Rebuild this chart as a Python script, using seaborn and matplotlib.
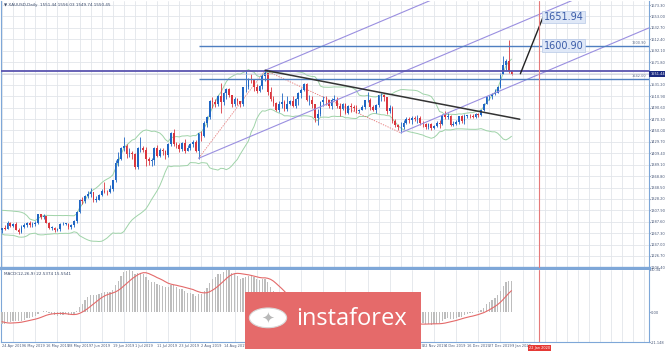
import numpy as np
import pandas as pd
import seaborn as sns
import matplotlib.pyplot as plt
from matplotlib.patches import Rectangle, Circle
from matplotlib.transforms import blended_transform_factory

# Daily XAUUSD candles, 24 Apr 2019 .. 9 Jan 2020
opens = [1272, 1276, 1275, 1286, 1280, 1284, 1273, 1270, 1279, 1282, 1285, 1281, 1284, 1286, 1301, 1296,
         1297, 1286, 1277, 1277, 1273, 1274, 1283, 1284, 1284, 1279, 1281, 1288, 1305, 1327, 1324, 1333,
         1337, 1340, 1327, 1327, 1335, 1342, 1341, 1340, 1346, 1361, 1392, 1400, 1418, 1423, 1408, 1410,
         1409, 1385, 1418, 1418, 1415, 1400, 1395, 1397, 1419, 1404, 1415, 1413, 1406, 1426, 1446, 1426,
         1424, 1417, 1427, 1414, 1419, 1426, 1430, 1413, 1445, 1440, 1464, 1474, 1502, 1500, 1497, 1512,
         1500, 1517, 1524, 1513, 1497, 1506, 1502, 1497, 1527, 1527, 1542, 1539, 1527, 1520, 1529, 1547,
         1553, 1519, 1506, 1499, 1486, 1497, 1501, 1488, 1498, 1502, 1494, 1506, 1517, 1522, 1532, 1504,
         1505, 1497, 1472, 1479, 1500, 1505, 1504, 1493, 1505, 1505, 1494, 1489, 1497, 1482, 1494, 1492,
         1490, 1484, 1487, 1492, 1504, 1505, 1492, 1487, 1496, 1513, 1514, 1510, 1484, 1490, 1467, 1459,
         1456, 1456, 1463, 1471, 1468, 1472, 1471, 1473, 1464, 1462, 1456, 1462, 1455, 1458, 1464, 1462,
         1477, 1474, 1475, 1459, 1462, 1465, 1475, 1467, 1476, 1476, 1475, 1474, 1479, 1478, 1486, 1498,
         1511, 1511, 1515, 1517, 1528, 1551, 1566, 1574, 1556]
highs = [1277, 1281, 1289, 1287, 1286, 1287, 1276, 1282, 1285, 1287, 1288, 1287, 1288, 1302, 1302, 1301,
         1298, 1287, 1280, 1279, 1276, 1286, 1287, 1286, 1286, 1284, 1291, 1306, 1328, 1331, 1336, 1342,
         1348, 1341, 1333, 1337, 1345, 1358, 1344, 1353, 1362, 1397, 1411, 1420, 1439, 1426, 1419, 1414,
         1410, 1420, 1438, 1422, 1420, 1403, 1401, 1421, 1425, 1418, 1418, 1415, 1428, 1448, 1453, 1429,
         1428, 1429, 1434, 1424, 1428, 1433, 1433, 1446, 1449, 1466, 1475, 1505, 1509, 1506, 1513, 1535,
         1519, 1525, 1525, 1514, 1509, 1507, 1503, 1528, 1555, 1543, 1551, 1542, 1533, 1531, 1550, 1557,
         1553, 1528, 1511, 1500, 1503, 1516, 1505, 1512, 1505, 1512, 1508, 1518, 1525, 1535, 1535, 1513,
         1511, 1498, 1489, 1503, 1512, 1512, 1505, 1507, 1513, 1510, 1499, 1499, 1499, 1496, 1499, 1495,
         1495, 1489, 1496, 1505, 1518, 1508, 1495, 1498, 1514, 1517, 1515, 1510, 1495, 1494, 1470, 1462,
         1465, 1468, 1474, 1474, 1476, 1476, 1478, 1475, 1466, 1464, 1463, 1463, 1460, 1467, 1468, 1479,
         1484, 1481, 1478, 1466, 1468, 1476, 1478, 1480, 1478, 1480, 1479, 1481, 1481, 1487, 1499, 1512,
         1514, 1516, 1524, 1530, 1553, 1582, 1578, 1611, 1558]
lows = [1268, 1272, 1274, 1278, 1278, 1272, 1266, 1267, 1276, 1279, 1279, 1279, 1280, 1284, 1293, 1293,
        1285, 1275, 1273, 1269, 1271, 1271, 1281, 1282, 1275, 1275, 1279, 1286, 1304, 1319, 1321, 1330,
        1332, 1322, 1323, 1326, 1333, 1338, 1336, 1339, 1342, 1358, 1387, 1398, 1414, 1401, 1402, 1400,
        1382, 1381, 1411, 1412, 1386, 1388, 1387, 1389, 1403, 1402, 1407, 1400, 1402, 1422, 1423, 1419,
        1412, 1414, 1410, 1413, 1416, 1421, 1411, 1400, 1432, 1438, 1456, 1471, 1490, 1492, 1493, 1481,
        1496, 1506, 1509, 1492, 1494, 1495, 1491, 1494, 1519, 1524, 1535, 1521, 1516, 1518, 1524, 1538,
        1514, 1503, 1494, 1485, 1483, 1490, 1484, 1484, 1496, 1491, 1490, 1496, 1508, 1520, 1503, 1495,
        1490, 1465, 1459, 1475, 1493, 1495, 1490, 1489, 1503, 1490, 1475, 1486, 1480, 1480, 1483, 1485,
        1481, 1481, 1486, 1489, 1500, 1487, 1484, 1482, 1491, 1503, 1502, 1480, 1481, 1464, 1456, 1450,
        1445, 1453, 1461, 1464, 1462, 1466, 1463, 1460, 1457, 1452, 1453, 1451, 1453, 1456, 1454, 1460,
        1470, 1471, 1458, 1458, 1460, 1461, 1463, 1462, 1472, 1472, 1472, 1472, 1474, 1476, 1485, 1497,
        1505, 1506, 1514, 1516, 1525, 1550, 1558, 1553, 1549]
closes = [1276, 1275, 1286, 1280, 1284, 1273, 1270, 1279, 1282, 1285, 1281, 1284, 1286, 1301, 1296, 1297,
          1286, 1277, 1277.5, 1273, 1274, 1283, 1284, 1284.5, 1279, 1281, 1288, 1305, 1327, 1324, 1333, 1337,
          1340, 1327, 1327.5, 1335, 1342, 1341, 1340, 1346, 1361, 1392, 1400, 1418, 1423, 1408, 1410, 1409,
          1385, 1418, 1418.5, 1415, 1400, 1395, 1397, 1419, 1404, 1415, 1413, 1406, 1426, 1446, 1426, 1424,
          1417, 1427, 1414, 1419, 1426, 1430, 1413, 1445, 1440, 1464, 1474, 1502, 1500, 1497, 1512, 1500,
          1517, 1524, 1513, 1497, 1506, 1502, 1497, 1527, 1527.5, 1542, 1539, 1527, 1520, 1529, 1547, 1553,
          1519, 1506, 1499, 1486, 1497, 1501, 1488, 1498, 1502, 1494, 1506, 1517, 1522, 1532, 1504, 1505,
          1497, 1472, 1479, 1500, 1505, 1504, 1493, 1505, 1505.5, 1494, 1489, 1497, 1482, 1494, 1492, 1490,
          1484, 1487, 1492, 1504, 1505, 1492, 1487, 1496, 1513, 1514, 1510, 1484, 1490, 1467, 1459, 1456,
          1456.5, 1463, 1471, 1468, 1472, 1471, 1473, 1464, 1462, 1456, 1462, 1455, 1458, 1464, 1462, 1477,
          1474, 1475, 1459, 1462, 1465, 1475, 1467, 1476, 1476.5, 1475.5, 1474.5, 1479, 1478, 1486, 1498, 1511,
          1511.5, 1515, 1517, 1528, 1551, 1566, 1574, 1556, 1551]
# closes before 24 Apr, only used to warm up the indicators
warmup_closes = [1328, 1328, 1319, 1313, 1294, 1287, 1286, 1286, 1286, 1298, 1291, 1298, 1309, 1295,
                 1302, 1302, 1306, 1312, 1308, 1313, 1322, 1316, 1309, 1290, 1292, 1287, 1291, 1291,
                 1291, 1292, 1298, 1305, 1307, 1293, 1291, 1288, 1275, 1272, 1274, 1275, 1274, 1270]

date_labels = ["24 Apr 2019", "6 May 2019", "16 May 2019", "28 May 2019", "7 Jun 2019", "19 Jun 2019",
               "1 Jul 2019", "11 Jul 2019", "23 Jul 2019", "2 Aug 2019", "14 Aug 2019", "26 Aug 2019",
               "5 Sep 2019", "17 Sep 2019", "27 Sep 2019", "9 Oct 2019", "21 Oct 2019", "31 Oct 2019",
               "12 Nov 2019", "22 Nov 2019", "4 Dec 2019", "16 Dec 2019", "27 Dec 2019", "9 Jan 2020"]
price_ticks = [1673.30, 1653.00, 1632.70, 1612.40, 1592.10, 1571.80, 1551.50, 1531.20, 1510.90,
               1490.60, 1470.30, 1450.00, 1429.70, 1409.40, 1389.10, 1368.80, 1348.50, 1328.20,
               1307.90, 1287.60, 1267.30, 1247.00, 1226.70, 1206.40]

# analyst drawings: pitchfork anchors (bar, price), trend line, projection, levels
fork_bars = [71, 95, 144]
fork_prices = [1400.5, 1557.1, 1445.9]
trend_bars = [95, 187]
trend_prices = [1557.1, 1470.0]
proj_bars = [187.2, 195.4]
proj_prices = [1551.0, 1651.94]
level_top = 1600.90
level_mid = 1542.0
level_high = 1555.0
last_price = 1551.0
now_bar = 194.0

n = len(closes)
idx = np.arange(n)
x_max = 233.6

# indicators
allc = pd.Series(warmup_closes + closes, dtype=float)
mid = allc.rolling(20).mean()
sd = allc.rolling(20).std(ddof=0)
bb_up = (mid + 2 * sd).values[-n:]
bb_dn = (mid - 2 * sd).values[-n:]
macd_all = allc.ewm(span=12, adjust=False).mean() - allc.ewm(span=26, adjust=False).mean()
sig_all = macd_all.rolling(9).mean()
macd = macd_all.values[-n:]
signal = sig_all.values[-n:]

sns.set_style("white")
plt.rcParams['font.family'] = ['DejaVu Sans']

fig = plt.figure(figsize=(6.65, 3.52), dpi=100)
ax = fig.add_axes([0.002, 0.2386, 0.9737, 0.7586])
ax2 = fig.add_axes([0.002, 0.0284, 0.9737, 0.2046])

frame = '#7ea7d8'
grid_c = '#e2e5ea'
for a in (ax, ax2):
    a.set_xlim(-0.25, x_max)
    a.set_xticks(np.arange(0, x_max, 4), minor=True)
    a.grid(True, which='minor', axis='x', color=grid_c, lw=0.6)
    a.set_axisbelow(True)
    for s in a.spines.values():
        s.set_color(frame)
        s.set_linewidth(0.8)
    a.yaxis.tick_right()
    a.tick_params(axis='y', which='major', labelsize=2.6, length=1.0, pad=0.6, colors='#4a5a7a')
    a.tick_params(axis='x', which='both', length=0)
ax.spines['top'].set_visible(False)
ax.spines['bottom'].set_linewidth(2.4)
ax2.spines['top'].set_visible(False)

# price panel
ax.set_ylim(1205.2, 1680.5)
ax.set_yticks(price_ticks)
ax.set_yticklabels([f"{v:.2f}" for v in price_ticks])
ax.grid(True, which='major', axis='y', color=grid_c, lw=0.6)
ax.set_xticks([])

up = np.array(closes) >= np.array(opens)
cols = np.where(up, '#1f66c4', '#d9363e')
ax.vlines(idx, lows, highs, colors=cols, lw=0.6, zorder=3)
body_lo = np.minimum(opens, closes)
body_h = np.maximum(np.abs(np.array(closes) - np.array(opens)), 0.9)
ax.bar(idx, body_h, bottom=body_lo, width=0.62, color=cols, lw=0, zorder=4)

sns.lineplot(x=idx, y=bb_up, ax=ax, color='#9fd3a8', lw=0.7, zorder=2)
sns.lineplot(x=idx, y=bb_dn, ax=ax, color='#9fd3a8', lw=0.7, zorder=2)

# zigzag
ax.plot(fork_bars, fork_prices, color='#e57070', lw=0.6, ls=(0, (1.5, 1.5)), zorder=2)

# Andrews pitchfork
mid_bar = (fork_bars[1] + fork_bars[2]) / 2
mid_price = (fork_prices[1] + fork_prices[2]) / 2
slope = (mid_price - fork_prices[0]) / (mid_bar - fork_bars[0])
for b, p in zip(fork_bars, fork_prices):
    xs = np.array([b, x_max])
    ax.plot(xs, p + slope * (xs - b), color='#9a8fe0', lw=0.8, zorder=5)

# horizontal levels
ax.hlines(level_high, -0.25, x_max, color='#5b55b0', lw=1.3, zorder=5)
ax.hlines(last_price, -0.25, x_max, color='#b8bcd0', lw=0.4, zorder=5)
ax.hlines([level_top, level_mid], fork_bars[0], x_max, color='#4f7fc0', lw=1.0, zorder=5)
ax.text(x_max - 1, level_top + 1.5, f"{level_top:.2f}", fontsize=2.5, color='#5a6a8a', ha='right', va='bottom')
ax.text(x_max - 1, level_mid + 1.5, f"{level_mid:.2f}", fontsize=2.5, color='#5a6a8a', ha='right', va='bottom')

# trend line and projection
ax.plot(trend_bars, trend_prices, color='#333333', lw=1.1, zorder=6)
ax.plot(proj_bars, proj_prices, color='#222222', lw=1.0, zorder=6)

box = dict(boxstyle='square,pad=0.15', fc='#dfe8f7', ec='#b7c8e6', lw=0.5)
ax.text(proj_bars[1] + 0.3, proj_prices[1], f"{proj_prices[1]:.2f}", fontsize=7, color='#3a5ca8',
        ha='left', va='center', bbox=box, zorder=8)
ax.text(proj_bars[1] + 0.3, level_top, f"{level_top:.2f}", fontsize=7, color='#3a5ca8',
        ha='left', va='center', bbox=box, zorder=8)

# current price tag on the axis
tr = blended_transform_factory(ax.transAxes, ax.transData)
ax.text(1.002, last_price, "1551.44", transform=tr, fontsize=2.5, color='white', ha='left', va='center',
        bbox=dict(boxstyle='square,pad=0.25', fc='#1b2a80', ec='none'), clip_on=False, zorder=9)

ax.text(0.004, 0.992, "\u25bc XAUUSD,Daily  1551.44 1556.03 1549.74 1550.45", transform=ax.transAxes,
        fontsize=3.0, color='#3a4a6a', ha='left', va='top')

# red time line
for a in (ax, ax2):
    a.axvline(now_bar, color='#e57a7a', lw=0.8, zorder=7)

# MACD panel
top = float(np.nanmax(macd))
bot = -21.148
ax2.set_ylim(bot, top)
ax2.set_yticks([top, 0.0, bot])
ax2.set_yticklabels([f"{top:.2f}", "0.00", f"{bot:.3f}"])
ax2.bar(idx, macd, width=0.45, color='#bdbdbd', lw=0, zorder=3)
sns.lineplot(x=idx, y=signal, ax=ax2, color='#e46a6a', lw=0.8, zorder=4)
ax2.text(0.004, 0.97, f"MACD(12,26,9) {macd[-1]:.4f} {signal[-1]:.4f}", transform=ax2.transAxes,
         fontsize=3.0, color='#3a4a6a', ha='left', va='top')

ax2.set_xticks(np.arange(0, n, 8))
ax2.set_xticklabels(date_labels)
ax2.tick_params(axis='x', which='major', labelsize=2.5, pad=1.5, colors='#4a5a7a')
for lbl in ax2.get_xticklabels():
    lbl.set_ha('left')
ax2.text(now_bar, -0.06, "22 Jan 2020", transform=blended_transform_factory(ax2.transData, ax2.transAxes),
         fontsize=2.5, color='white', ha='center', va='top',
         bbox=dict(boxstyle='square,pad=0.3', fc='#e53935', ec='none'), clip_on=False, zorder=9)

# instaforex watermark
fig.patches.append(Rectangle((0.3684, 0.0085), 0.2647, 0.162, transform=fig.transFigure,
                             fc='#e56a6a', ec='none', zorder=10))
fig.patches.append(Circle((0.403, 0.097), 0.028, transform=fig.transFigure, fc='white', ec='#d8d8d8',
                          lw=0.8, zorder=11))
fig.text(0.403, 0.097, "\u2726", fontsize=11, color='#b9b9b9', ha='center', va='center', zorder=12)
fig.text(0.528, 0.094, "instaforex", fontsize=17, color='white', ha='center', va='center',
         family=['Open Sans', 'DejaVu Sans'], zorder=12)

fig.savefig("out.png", dpi=100)
